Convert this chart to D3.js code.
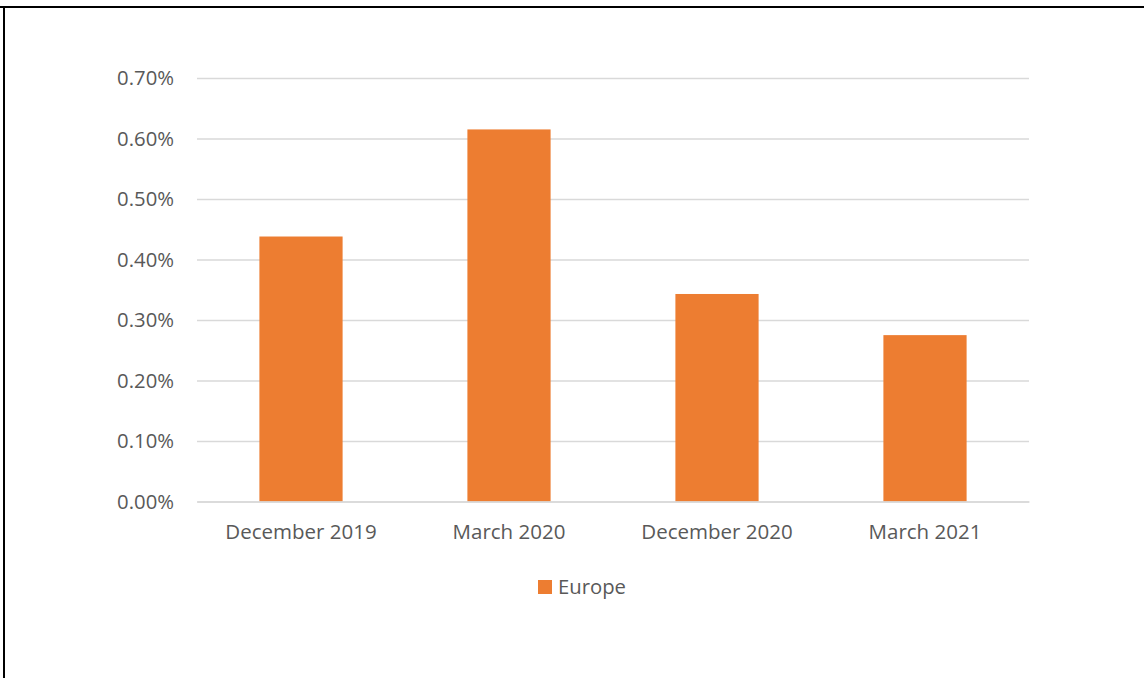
<!DOCTYPE html>
<html>
<head>
<meta charset="utf-8">
<script src="https://cdn.jsdelivr.net/npm/d3@7"></script>
<style>
  html, body { margin: 0; padding: 0; background: #fff; }
  svg { display: block; }
  text { font-family: "Open Sans", "Noto Sans", sans-serif; fill: #595959; }
</style>
</head>
<body>
<svg id="chart" width="1144" height="678"></svg>
<script>
const categories = ["December 2019", "March 2020", "December 2020", "March 2021"];
const seriesName = "Europe";
const values = [0.00438, 0.00615, 0.00343, 0.00275];
const yTicks = [0, 0.001, 0.002, 0.003, 0.004, 0.005, 0.006, 0.007];

const svg = d3.select("#chart");
const W = 1144, H = 678;
const orange = "#ED7D31";
const gridColor = "#D9D9D9";

// frame lines (top and left)
svg.append("line").attr("x1", 0).attr("x2", W).attr("y1", 7).attr("y2", 7)
  .attr("stroke", "#000").attr("stroke-width", 2);
svg.append("line").attr("x1", 4).attr("x2", 4).attr("y1", 6).attr("y2", H)
  .attr("stroke", "#000").attr("stroke-width", 2);

const plot = { left: 197, right: 1029, top: 78, bottom: 501.5 };

const x = d3.scaleBand().domain(categories).range([plot.left, plot.right])
  .paddingInner(0.6).paddingOuter(0.3);
const y = d3.scaleLinear().domain([0, 0.007]).range([plot.bottom, plot.top]);

// gridlines
const yAxis = d3.axisLeft(y).tickValues(yTicks)
  .tickFormat(d3.format(".2%")).tickSize(-(plot.right - plot.left)).tickPadding(23);
const gy = svg.append("g").attr("transform", `translate(${plot.left},0)`).call(yAxis);
gy.select(".domain").remove();
gy.selectAll(".tick line").attr("stroke", gridColor).attr("stroke-width", 1.5);
gy.selectAll(".tick text").attr("font-size", 20.3).style("fill", "#595959")
  .attr("font-family", "'Open Sans', sans-serif");

// bars
svg.append("g").selectAll("rect").data(values).join("rect")
  .attr("x", (d, i) => x(categories[i]))
  .attr("width", x.bandwidth())
  .attr("y", d => y(d))
  .attr("height", d => y(0) - y(d))
  .attr("fill", orange);

// x axis baseline
const xAxis = d3.axisBottom(x).tickSize(0).tickPadding(23);
const gx = svg.append("g").attr("transform", `translate(0,${plot.bottom})`).call(xAxis);
gx.select(".domain").attr("stroke", gridColor).attr("stroke-width", 1.5);
gx.selectAll(".tick text").attr("font-size", 20.5).style("fill", "#595959")
  .attr("font-family", "'Open Sans', sans-serif");

// legend
const lg = svg.append("g").attr("transform", "translate(538,580)");
lg.append("rect").attr("width", 14).attr("height", 14).attr("fill", orange);
lg.append("text").attr("x", 20).attr("y", 14).attr("font-size", 20.3).text(seriesName);
</script>
</body>
</html>
